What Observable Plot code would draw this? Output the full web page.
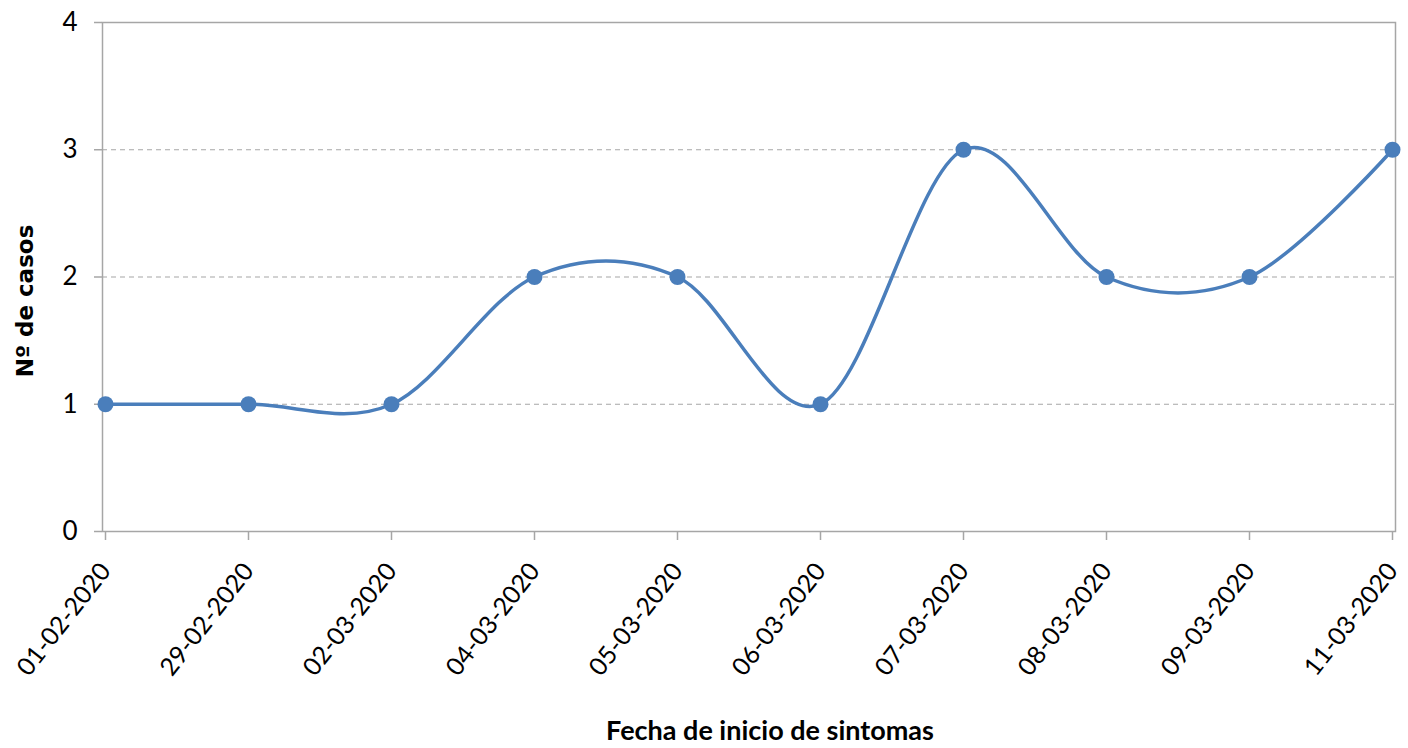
<!DOCTYPE html>
<html>
<head>
<meta charset="utf-8">
<script src="https://cdn.jsdelivr.net/npm/d3@7"></script>
<script src="https://cdn.jsdelivr.net/npm/@observablehq/plot@0.6"></script>
<style>
  html, body { margin: 0; padding: 0; background: #fff; }
  #chart svg { display: block; }
</style>
</head>
<body>
<div id="chart"></div>
<script>
const fechas = ["01-02-2020","29-02-2020","02-03-2020","04-03-2020","05-03-2020","06-03-2020","07-03-2020","08-03-2020","09-03-2020","11-03-2020"];
const casos = [1, 1, 1, 2, 2, 1, 3, 2, 2, 3];
const yTicks = [0, 1, 2, 3, 4];
const gridValues = [1, 2, 3];
const yTitle = "Nº de casos";
const xTitle = "Fecha de inicio de sintomas";

const data = fechas.map((f, i) => ({fecha: f, casos: casos[i]}));
const blue = "#4a7ebb";
const gray = "#a6a6a6";

const chart = Plot.plot({
  width: 1408,
  height: 748,
  marginLeft: 102,
  marginRight: 13,
  marginTop: 22,
  marginBottom: 217,
  style: {fontFamily: "Lato, 'Open Sans', sans-serif", fontSize: "26px", color: "#000", background: "#fff"},
  x: {type: "point", domain: fechas, padding: 0},
  y: {domain: [0, 4]},
  marks: [
    Plot.ruleY(gridValues, {stroke: gray, strokeDasharray: "5,4", strokeWidth: 1.2}),
    Plot.frame({stroke: gray, strokeWidth: 1.5}),
    Plot.axisY(yTicks, {
      tickSize: 8, tickPadding: 17, tickFormat: "d", fontSize: 26, stroke: gray, strokeWidth: 1.5, label: null
    }),
    Plot.axisX({
      tickSize: 9, tickPadding: 26, tickRotate: -52, fontSize: 25, stroke: gray, strokeWidth: 1.5, label: null
    }),
    Plot.text([yTitle], {
      frameAnchor: "left", textAnchor: "middle", rotate: -90, dx: -77, dy: 24,
      fontWeight: "bold", fontFamily: "DejaVu Sans", fontSize: 23, fill: "#000"
    }),
    Plot.text([xTitle], {
      frameAnchor: "bottom", textAnchor: "middle", lineAnchor: "middle", dx: 21, dy: 200,
      fontWeight: "bold", fontSize: 27, fill: "#000"
    }),
    Plot.line(data, {x: "fecha", y: "casos", stroke: blue, strokeWidth: 3.5, curve: "cardinal"}),
    Plot.dot(data, {x: "fecha", y: "casos", fill: blue, r: 8})
  ]
});
document.getElementById("chart").appendChild(chart);
</script>
</body>
</html>
